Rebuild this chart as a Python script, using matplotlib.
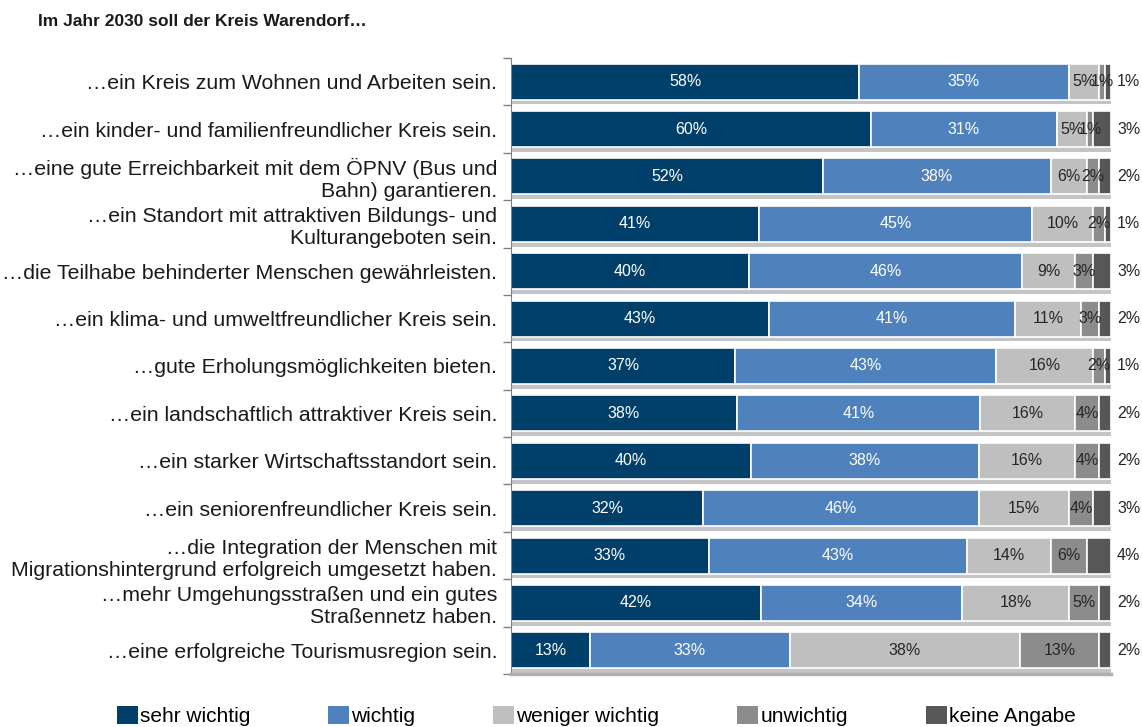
import matplotlib
matplotlib.use("Agg")
import matplotlib.pyplot as plt
from matplotlib.patches import Patch

plt.rcParams['font.family'] = ['Liberation Sans', 'DejaVu Sans']

title = "Im Jahr 2030 soll der Kreis Warendorf…"
categories = [
    "…ein Kreis zum Wohnen und Arbeiten sein.",
    "…ein kinder- und familienfreundlicher Kreis sein.",
    "…eine gute Erreichbarkeit mit dem ÖPNV (Bus und\nBahn) garantieren.",
    "…ein Standort mit attraktiven Bildungs- und\nKulturangeboten sein.",
    "…die Teilhabe behinderter Menschen gewährleisten.",
    "…ein klima- und umweltfreundlicher Kreis sein.",
    "…gute Erholungsmöglichkeiten bieten.",
    "…ein landschaftlich attraktiver Kreis sein.",
    "…ein starker Wirtschaftsstandort sein.",
    "…ein seniorenfreundlicher Kreis sein.",
    "…die Integration der Menschen mit\nMigrationshintergrund erfolgreich umgesetzt haben.",
    "…mehr Umgehungsstraßen und ein gutes\nStraßennetz haben.",
    "…eine erfolgreiche Tourismusregion sein.",
]
series_names = ["sehr wichtig", "wichtig", "weniger wichtig", "unwichtig", "keine Angabe"]
sehr_wichtig    = [58, 60, 52, 41, 40, 43, 37, 38, 40, 32, 33, 42, 13]
wichtig         = [35, 31, 38, 45, 46, 41, 43, 41, 38, 46, 43, 34, 33]
weniger_wichtig = [5, 5, 6, 10, 9, 11, 16, 16, 16, 15, 14, 18, 38]
unwichtig       = [1, 1, 2, 2, 3, 3, 2, 4, 4, 4, 6, 5, 13]
keine_angabe    = [1, 3, 2, 1, 3, 2, 1, 2, 2, 3, 4, 2, 2]

series = [sehr_wichtig, wichtig, weniger_wichtig, unwichtig, keine_angabe]
colors = ["#003F6A", "#4F81BD", "#BFBFBF", "#8C8C8C", "#575757"]
label_colors = ["white", "white", "#262626", "#262626", None]

fig = plt.figure(figsize=(11.42, 7.27), dpi=100)
ax = fig.add_axes([511/1142, 1-674/727, 600/1142, 616/727])

n = len(categories)
ypos = list(range(n))
bar_h = 0.76

# 100 % stacked: each row scaled to its total
totals = [sum(s[i] for s in series) for i in range(n)]

# shadow strips under bars
ax.barh([y + bar_h/2 + 0.05 for y in ypos], [100]*n, height=0.1, left=0,
        color="#c4c4c4", edgecolor="none", zorder=1)

left = [0.0]*n
for k, (vals, col) in enumerate(zip(series, colors)):
    widths = [v * 100.0 / t for v, t in zip(vals, totals)]
    ax.barh(ypos, widths, left=left, height=bar_h, color=col,
            edgecolor="white", linewidth=1.2, zorder=2, label=series_names[k])
    for i, v in enumerate(vals):
        if k < 4:
            ax.text(left[i] + widths[i]/2, ypos[i], f"{v}%", ha="center", va="center",
                    color=label_colors[k], fontsize=11.5, zorder=3)
        else:
            ax.text(101.0, ypos[i], f"{v}%", ha="left", va="center",
                    color="#262626", fontsize=11.5, zorder=3, clip_on=False)
    left = [l + w for l, w in zip(left, widths)]

ax.set_xlim(0, 100)
ax.set_ylim(n - 0.5, -0.5)
ax.set_xticks([])
ax.set_yticks([y - 0.5 for y in range(n + 1)])
ax.set_yticklabels([])
ax.set_yticks(ypos, minor=True)
ax.set_yticklabels(categories, minor=True, fontsize=15.3, color="#1a1a1a",
                   linespacing=1.2)
ax.tick_params(axis="y", which="minor", length=0, pad=10)
ax.tick_params(axis="y", which="major", length=6, color="#808080", width=1)
for t in ax.get_yticklabels(minor=True):
    t.set_ha("right")
for s in ["top", "right"]:
    ax.spines[s].set_visible(False)
ax.spines["left"].set_color("#808080")
ax.spines["bottom"].set_color("#b0b0b0")
ax.spines["bottom"].set_linewidth(2.5)

fig.text(38/1142, 1-22/727, title, fontsize=12.5, fontweight="bold",
         ha="left", va="center", color="#1a1a1a")

handles = [Patch(facecolor=c, edgecolor="none") for c in colors]
fig.legend(handles, series_names, loc="center", bbox_to_anchor=(0.522, 1-716/727),
           ncol=5, frameon=False, fontsize=15, handlelength=1.0, handleheight=1.0,
           handletextpad=0.1, columnspacing=3.75)

fig.savefig("out.png", dpi=100)
